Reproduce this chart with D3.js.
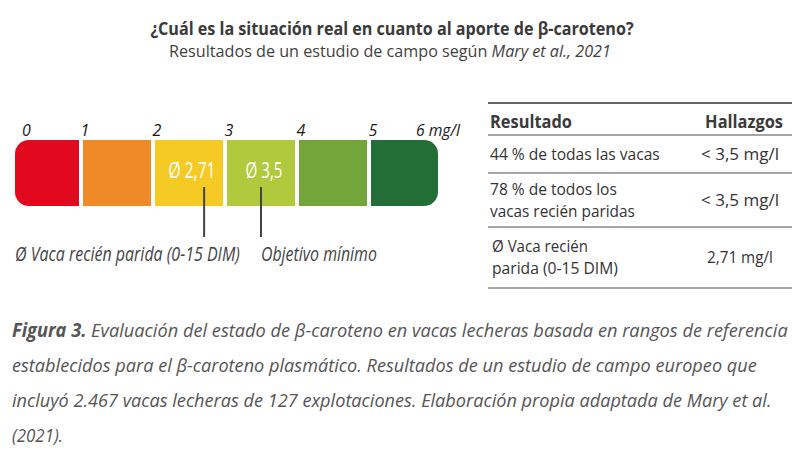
<!DOCTYPE html>
<html lang="es">
<head>
<meta charset="UTF-8">
<title>Beta-caroteno</title>
<style>
body {
    margin: 0;
    background-color: #fff;
}
svg {
    display: block;
    font-family: "Open Sans", sans-serif;
}
</style>
</head>
<body>
<div id="plot"></div>
<script src="https://cdn.jsdelivr.net/npm/d3@7"></script>
<script>

const w = 800,
      h = 467;

// data
const tickLabels = ["0", "1", "2", "3", "4", "5", "6 mg/l"];
const ranges = [0, 1, 2, 3, 4, 5];
const rangeColors = ["#e2091f", "#ee8a28", "#f5ca25", "#b0c93d", "#72a53a", "#236e37"];
const markerValues = [2.71, 3.5];
const markerLabels = ["Ø 2,71", "Ø 3,5"];
const markerNotes = ["Ø Vaca recién parida (0-15 DIM)", "Objetivo mínimo"];

const tableHeader = ["Resultado", "Hallazgos"];
const tableResults = [
    ["44 % de todas las vacas"],
    ["78 % de todos los", "vacas recién paridas"],
    ["Ø Vaca recién", "parida (0-15 DIM)"]
];
const tableFindings = ["< 3,5 mg/l", "< 3,5 mg/l", "2,71 mg/l"];

const title = "¿Cuál es la situación real en cuanto al aporte de β-caroteno?";
const subtitle = ["Resultados de un estudio de campo según ", "Mary et al., 2021"];
const captionLead = "Figura 3.";
const captionLines = [
    " Evaluación del estado de β-caroteno en vacas lecheras basada en rangos de referencia",
    "establecidos para el β-caroteno plasmático. Resultados de un estudio de campo europeo que",
    "incluyó 2.467 vacas lecheras de 127 explotaciones. Elaboración propia adaptada de Mary et al.",
    "(2021)."
];

// squeeze a text horizontally round its anchor so it takes the given width
// (the original uses a condensed face that is not installed)
function squeeze(node, width) {
    const t = d3.select(node);
    const x0 = +t.attr("x");
    const bw = node.getBBox().width;
    if (!bw) return;
    const sx = width / bw;
    t.attr("transform", `translate(${x0},0) scale(${sx},1) translate(${-x0},0)`);
}

// svg
const svg = d3.select("#plot").append("svg")
    .attr("width", w)
    .attr("height", h);

// title
svg.append("text")
    .attr("x", 392).attr("y", 35)
    .attr("text-anchor", "middle")
    .attr("font-size", 18).attr("font-weight", "bold")
    .attr("fill", "#3a3a3a")
    .text(title)
    .each(function() { squeeze(this, 484); });

const sub = svg.append("text")
    .attr("x", 390).attr("y", 57)
    .attr("text-anchor", "middle")
    .attr("font-size", 17)
    .attr("fill", "#3f3f3f");
sub.append("tspan").text(subtitle[0]);
sub.append("tspan").attr("font-style", "italic").text(subtitle[1]);
squeeze(sub.node(), 442);

// scale
const x = d3.scaleLinear().domain([0, 6]).range([9, 441]);
const barLeft = 15, barRight = 438, barTop = 140, barBottom = 206;

svg.append("clipPath").attr("id", "barclip")
    .append("rect")
    .attr("x", barLeft).attr("y", barTop)
    .attr("width", barRight - barLeft).attr("height", barBottom - barTop)
    .attr("rx", 14).attr("ry", 14);

svg.append("g").attr("clip-path", "url(#barclip)")
    .selectAll("rect")
    .data(ranges)
    .join("rect")
    .attr("x", d => Math.max(x(d) + 2, barLeft))
    .attr("y", barTop)
    .attr("width", d => Math.min(x(d + 1) - 2, barRight) - Math.max(x(d) + 2, barLeft))
    .attr("height", barBottom - barTop)
    .attr("fill", (d, i) => rangeColors[i]);

// tick labels
svg.append("g")
    .selectAll("text")
    .data(tickLabels)
    .join("text")
    .attr("x", (d, i) => i === 0 ? barLeft + 7 : i === 6 ? x(i) + 19 : x(i) + 4)
    .attr("y", 136)
    .attr("text-anchor", (d, i) => i === 0 ? "start" : i === 6 ? "end" : "middle")
    .attr("font-size", 16)
    .attr("font-style", "italic")
    .attr("fill", "#1a1a1a")
    .text(d => d)
    .each(function(d, i) { if (i === 6) squeeze(this, 45); });

// markers
const markerLabelW = [47, 37];
const markerNoteW = [225, 116];

const mk = svg.append("g")
    .selectAll("g")
    .data(markerValues)
    .join("g");

mk.append("text")
    .attr("x", d => x(Math.floor(d) + 0.5) + 3)
    .attr("y", 178)
    .attr("text-anchor", "middle")
    .attr("font-size", 21)
    .attr("fill", "#fff")
    .text((d, i) => markerLabels[i])
    .each(function(d, i) { squeeze(this, markerLabelW[i]); });

mk.append("line")
    .attr("x1", d => x(d)).attr("x2", d => x(d))
    .attr("y1", 187).attr("y2", 237)
    .attr("stroke", "#444")
    .attr("stroke-width", 2);

mk.append("text")
    .attr("x", (d, i) => i === 0 ? barLeft : x(d))
    .attr("y", 261)
    .attr("font-size", 20)
    .attr("font-style", "italic")
    .attr("fill", "#444")
    .text((d, i) => markerNotes[i])
    .each(function(d, i) { squeeze(this, markerNoteW[i]); });

// table
const tLeft = 488, tRight = 792, colX = 740;
const rowLines = [135, 173, 227, 288];
const resultW = [[170], [127, 145], [96, 126]];
const findingW = [78, 78, 66];

svg.append("line")
    .attr("x1", tLeft).attr("x2", tRight)
    .attr("y1", 103).attr("y2", 103)
    .attr("stroke", "#666").attr("stroke-width", 2);

svg.append("g")
    .selectAll("line")
    .data(rowLines)
    .join("line")
    .attr("x1", tLeft).attr("x2", tRight)
    .attr("y1", d => d).attr("y2", d => d)
    .attr("stroke", "#888").attr("stroke-width", 1.5);

svg.append("text")
    .attr("x", 490).attr("y", 128)
    .attr("font-size", 17).attr("font-weight", "bold")
    .attr("fill", "#3a3a3a")
    .text(tableHeader[0])
    .each(function() { squeeze(this, 82); });

svg.append("text")
    .attr("x", 783).attr("y", 128)
    .attr("text-anchor", "end")
    .attr("font-size", 17).attr("font-weight", "bold")
    .attr("fill", "#3a3a3a")
    .text(tableHeader[1])
    .each(function() { squeeze(this, 78); });

const rows = svg.append("g")
    .selectAll("g")
    .data(tableResults)
    .join("g");

rows.each(function(lines, i) {
    const g = d3.select(this);
    const top = rowLines[i], bottom = rowLines[i + 1];
    const mid = (top + bottom) / 2;
    const lh = 22;
    const first = mid + 6 - (lines.length - 1) * lh / 2;
    g.selectAll("text.res")
        .data(lines)
        .join("text")
        .attr("class", "res")
        .attr("x", i === 2 ? 492 : 490)
        .attr("y", (d, j) => first + j * lh)
        .attr("font-size", 17)
        .attr("fill", "#333")
        .text(d => d)
        .each(function(d, j) { squeeze(this, resultW[i][j]); });
    g.append("text")
        .attr("x", colX)
        .attr("y", mid + 6)
        .attr("text-anchor", "middle")
        .attr("font-size", 17)
        .attr("fill", "#333")
        .text(tableFindings[i])
        .each(function() { squeeze(this, findingW[i]); });
});

// caption
const capWidths = [776, 745, 760, 51];
const cap = svg.append("g")
    .selectAll("text")
    .data(captionLines)
    .join("text")
    .attr("x", 12)
    .attr("y", (d, i) => 337 + i * 35)
    .attr("font-size", 19)
    .attr("font-style", "italic")
    .attr("fill", "#555");

cap.each(function(d, i) {
    const t = d3.select(this);
    if (i === 0) {
        t.append("tspan").attr("font-weight", "bold").text(captionLead);
    }
    t.append("tspan").text(d);
    squeeze(this, capWidths[i]);
});
</script>
</body>
</html>
